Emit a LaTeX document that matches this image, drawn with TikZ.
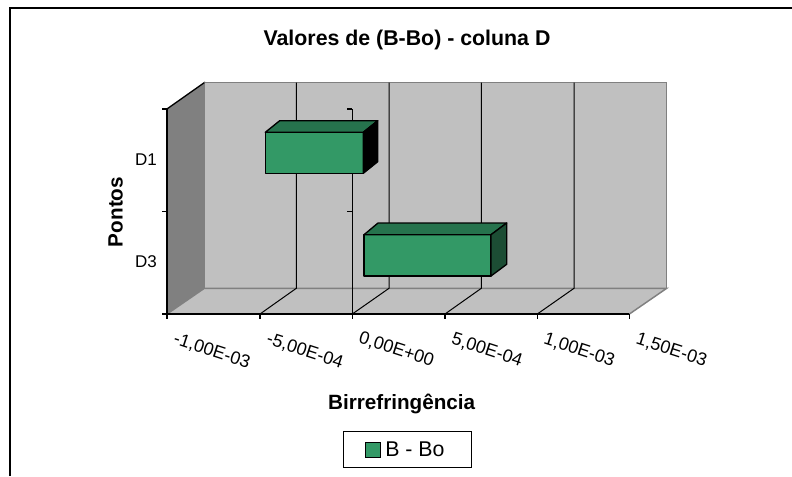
\documentclass[tikz,border=0pt]{standalone}
\usepackage{fontspec}
\setmainfont{Liberation Sans}
\definecolor{wallgray}{HTML}{C0C0C0}
\definecolor{sidegray}{HTML}{808080}
\definecolor{edgegray}{HTML}{808080}
\definecolor{barfront}{HTML}{339966}
\definecolor{bartop}{HTML}{26734D}
\definecolor{barside}{HTML}{1C4D34}
\begin{document}
\begin{tikzpicture}[x=0.75pt,y=-0.75pt]

      \tikzset{ticklabel/.style={anchor=west, inner sep=0pt, rotate=-18, font=\fontsize{13.5}{16}\selectfont},
        catlabel/.style={anchor=east, inner sep=0pt, font=\fontsize{12.75}{15}\selectfont},
        axistitle/.style={inner sep=0pt, font=\fontsize{15.5}{18}\selectfont\bfseries},
        wallface/.style={fill=wallgray, draw=edgegray, line width=1.1pt},
        gridline/.style={draw=black, line width=0.75pt},
        axisline/.style={draw=black, line width=0.8pt},
        barbox/.style={draw=black, line width=1pt, line join=round}}
      \useasboundingbox (0,0) rectangle (792,476);
%% Frame
      	\draw[line width=1.5pt] (10,476) -- (10,8) -- (792,8);
%% Walls
      	\coordinate (fbl) at (167,314);
      	\coordinate (ftl) at (167,109);
      	\coordinate (fbr) at (629.4,314);
      	\coordinate (bbl) at (204.3,288.3);
      	\coordinate (btl) at (204.3,82.7);
      	\coordinate (bbr) at (666.7,288.3);
      	\coordinate (btr) at (666.7,82.7);
      	\filldraw[fill=sidegray, draw=edgegray, line width=1.1pt] (fbl) -- (ftl) -- (btl) -- (bbl) -- cycle;
      	\draw[wallface] (bbl) rectangle (btr);
      	\draw[wallface] (fbl) -- (fbr) -- (bbr) -- (bbl) -- cycle;
      	\draw[black, line width=0.9pt] (ftl) -- (btl);
%Gridlines
		\foreach \gx/\fx in {296.3/260, 389/352.3, 481.3/445, 574/537.3} {
			\draw[gridline] (\gx,82.7) -- (\gx,288.3) -- (\fx,314);
		}
%Axes
		\draw[axisline] (ftl) -- (fbl) -- (fbr);
		\draw[axisline] (352.3,109) -- (352.3,314);
		\foreach \ty in {109, 211.7, 314} {
			\draw[axisline] (162,\ty) -- (167,\ty);
		}
		\foreach \ty in {109, 211.7} {
			\draw[axisline] (347.3,\ty) -- (352.3,\ty);
		}
		\foreach \tx in {167, 260, 352.3, 445, 537.3, 629.4} {
			\draw[axisline] (\tx,314) -- (\tx,319);
		}
%Bars
		\filldraw[barbox, fill=barfront] (265.3,132.3) rectangle (363.3,173.3);
		\filldraw[barbox, fill=bartop] (265.3,132.3) -- (279.7,120.7) -- (377.7,120.7) -- (363.3,132.3) -- cycle;
		\filldraw[barbox, fill=black] (363.3,132.3) -- (377.7,120.7) -- (377.7,161.7) -- (363.3,173.3) -- cycle;
		\filldraw[barbox, fill=barfront] (364,234.7) rectangle (491,276);
		\filldraw[barbox, fill=bartop] (364,234.7) -- (378,223) -- (506.7,223) -- (491,234.7) -- cycle;
		\filldraw[barbox, fill=barside] (491,234.7) -- (506.7,223) -- (506.7,264.3) -- (491,276) -- cycle;
%Labels
		\node[axistitle, font=\fontsize{16}{19}\selectfont\bfseries] (title) at (407,39.5) {Valores de (B-Bo) - coluna D};
		\node[catlabel] (d1) at (157,160) {D1};
		\node[catlabel] (d3) at (157,262) {D3};
		\node[axistitle, rotate=90] (pontos) at (115.5,212) {Pontos};
		\node[ticklabel] (t1) at (174,339) {-1,00E-03};
		\node[ticklabel] (t2) at (267,339) {-5,00E-04};
		\node[ticklabel] (t3) at (359.3,338) {0,00E+00};
		\node[ticklabel] (t4) at (452,339) {5,00E-04};
		\node[ticklabel] (t5) at (544.3,339) {1,00E-03};
		\node[ticklabel] (t6) at (636.4,339) {1,50E-03};
		\node[axistitle] (xtitle) at (401.7,404) {Birrefringência};
%Legend
		\node[draw=black, line width=0.8pt, minimum width=96.4, minimum height=27.3, inner sep=0pt] (legend) at (407.5,449.7) {};
		\node[draw=black, line width=0.8pt, fill=barfront, minimum size=11, inner sep=0pt] (legkey) at (373.2,450) {};
		\node[anchor=west, inner sep=0pt, font=\fontsize{16}{19}\selectfont] (legtext) at (385,449.5) {B - Bo};
	\end{tikzpicture}
\end{document}
